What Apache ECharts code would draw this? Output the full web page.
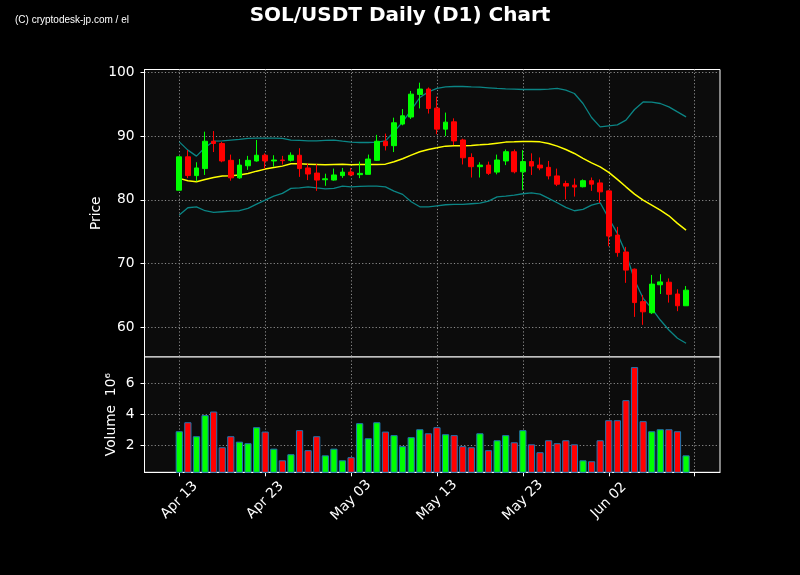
<!DOCTYPE html>
<html><head><meta charset="utf-8">
<script src="https://cdn.jsdelivr.net/npm/echarts@6/dist/echarts.min.js"></script>
<style>html,body{margin:0;padding:0;background:#000}#c{width:800px;height:575px}</style>
</head><body><div id="c"></div>
<script>
// ---- data ----
const openP = [81.5,86.75,83.8,84.9,89.2,88.85,86.2,83.45,85.35,86.1,
  87.0,86.1,86.25,86.2,87.0,85.0,84.2,83.15,83.1,83.8,
  84.35,83.95,84.0,86.2,89.2,88.5,91.9,93.0,96.55,97.4,
  94.4,91.1,92.25,89.4,86.65,85.2,85.45,84.35,86.1,87.55,
  84.4,86.0,85.45,85.1,83.75,82.55,82.3,82.05,83.0,82.65,
  81.4,74.45,71.8,69.1,64.0,62.25,66.65,67.05,65.2,63.35];
const closeP = [86.75,83.8,85.0,89.2,88.85,86.1,83.45,85.45,86.2,87.0,
  86.1,86.25,86.15,87.0,84.9,84.05,83.1,83.3,83.9,84.35,
  83.9,84.15,86.4,89.2,88.5,92.1,93.2,96.6,97.4,94.35,
  91.1,92.2,89.25,86.6,85.2,85.45,84.15,86.25,87.55,84.4,
  86.0,85.3,85.0,83.75,82.45,82.15,82.0,83.0,82.45,81.25,
  74.3,71.7,68.95,63.85,62.4,66.75,67.1,65.15,63.35,65.8];
const lowP = [81.5,83.4,82.9,83.9,87.5,85.9,83.0,83.3,84.7,86.0,
  84.9,85.2,85.55,86.0,83.6,83.1,81.4,82.2,83.0,83.45,
  83.7,83.4,84.0,86.1,87.75,87.5,91.7,92.7,94.35,93.55,
  90.3,90.0,88.6,85.55,83.5,83.5,83.9,84.0,85.45,84.15,
  81.5,83.9,84.65,83.2,82.15,80.05,80.5,81.95,81.4,79.5,
  72.7,71.05,66.95,61.6,60.35,62.05,65.2,63.85,62.5,63.35];
const highP = [86.8,87.8,85.9,90.7,90.8,89.1,87.1,86.4,86.9,89.4,
  87.3,87.0,86.9,87.45,88.1,85.7,85.6,84.1,84.9,85.0,
  85.0,86.0,87.1,90.2,90.4,92.9,94.25,97.1,98.4,97.65,
  96.2,93.7,92.8,89.6,87.3,85.9,86.0,87.1,87.9,87.9,
  87.8,87.3,86.65,86.1,84.9,83.0,83.35,83.2,83.5,83.2,
  81.5,75.75,72.6,69.2,65.05,68.2,68.3,67.65,65.95,66.45];
const maLine = [83.36,82.98,82.83,83.2,83.5,83.72,83.77,83.88,84.14,84.5,
  84.82,85.08,85.29,85.65,85.65,85.6,85.55,85.5,85.55,85.6,
  85.5,85.55,85.55,85.55,85.6,85.97,86.44,87.02,87.54,87.9,
  88.16,88.43,88.48,88.48,88.53,88.63,88.74,88.9,89.06,89.1,
  89.17,89.17,89.1,88.85,88.43,87.9,87.28,86.5,85.81,85.18,
  84.3,83.2,82.04,80.9,79.95,79.17,78.38,77.49,76.3,75.24];
const bbUpper = [89.1,87.8,86.86,88.22,89.21,89.26,89.37,89.48,89.64,89.68,
  89.68,89.68,89.64,89.37,89.32,89.26,89.26,89.32,89.37,89.21,
  89.06,89.0,89.0,89.06,89.26,90.68,92.25,94.08,96.07,96.96,
  97.49,97.74,97.8,97.8,97.74,97.69,97.59,97.49,97.43,97.38,
  97.33,97.33,97.33,97.38,97.49,97.22,96.7,95.13,92.93,91.46,
  91.62,91.78,92.51,94.19,95.38,95.34,95.13,94.6,93.81,93.03];
const bbLower = [77.6,78.75,78.9,78.28,78.02,78.12,78.22,78.28,78.65,79.33,
  79.95,80.58,81.0,81.79,81.88,82.04,81.88,81.73,81.79,82.15,
  82.04,82.1,82.15,82.15,82.04,81.36,80.85,79.69,78.9,78.9,
  79.06,79.22,79.27,79.27,79.38,79.48,79.8,80.47,80.58,80.74,
  80.95,81.1,80.9,80.22,79.53,78.8,78.28,78.49,79.17,79.53,
  77.08,74.72,71.58,67.39,64.52,62.95,61.11,59.54,58.24,57.46];
const volumeM = [2.90,3.48,2.58,3.94,4.17,1.87,2.58,2.23,2.13,3.16,
  2.88,1.78,1.03,1.42,2.97,1.68,2.58,1.35,1.78,1.03,
  1.23,3.42,2.45,3.48,2.88,2.65,1.94,2.52,3.03,2.77,
  3.16,2.71,2.65,1.94,1.87,2.77,1.68,2.32,2.65,2.19,
  2.97,2.06,1.55,2.32,2.13,2.32,2.06,1.03,0.97,2.32,
  3.61,3.61,4.90,7.03,3.55,2.90,3.03,3.03,2.90,1.35];
const tickDays = [0,10,20,30,40,50,60];
const tickLabels = ['Apr 13','Apr 23','May 03','May 13','May 23','Jun 02',''];
const priceTicks = [60,70,80,90,100];
const volumeTicks = [2,4,6];

// ---- build ----
const UP = '#00ff00', DOWN = '#ff0000';
const days = openP.map((_, i) => i);
const candleData = days.map(i => [i, openP[i], closeP[i], lowP[i], highP[i]]);
const lineData = arr => days.map(i => [i, arr[i]]);
const volData = days.map(i => ({
  value: [i, volumeM[i]],
  itemStyle: { color: closeP[i] >= openP[i] ? UP : DOWN }
}));
const FONT = 'DejaVu Sans';
const gridLine = { show: true, lineStyle: { color: '#8c8c8c', type: [1.2, 2.2], width: 1 } };
const X_MIN = -4.05, X_MAX = 62.95;
const labelFor = v => { const k = tickDays.indexOf(Math.round(v)); return k >= 0 ? tickLabels[k] : ''; };

const chart = echarts.init(document.getElementById('c'), null, { renderer: 'canvas' });
chart.setOption({
  backgroundColor: '#000000',
  animation: false,
  title: {
    text: 'SOL/USDT Daily (D1) Chart', left: 'center', top: 0.5,
    textStyle: { color: '#ffffff', fontFamily: FONT, fontWeight: 'bold', fontSize: 20 }
  },
  graphic: [{
    type: 'text', left: 15, top: 15,
    style: { text: '(C) cryptodesk-jp.com / el', fill: '#ffffff', font: '10px "Liberation Sans"' }
  }],
  grid: [
    { left: 144.5, width: 575.5, top: 69.5, height: 287.5, show: true,
      backgroundColor: '#0c0c0c', borderColor: '#ffffff', borderWidth: 1, containLabel: false },
    { left: 144.5, width: 575.5, top: 357, height: 115.3, show: true,
      backgroundColor: '#0c0c0c', borderColor: '#ffffff', borderWidth: 1, containLabel: false }
  ],
  xAxis: [
    { type: 'value', gridIndex: 0, min: X_MIN, max: X_MAX,
      axisLine: { show: false, onZero: false }, axisLabel: { show: false, customValues: tickDays },
      axisTick: { show: false, customValues: tickDays }, splitLine: gridLine },
    { type: 'value', gridIndex: 1, min: X_MIN, max: X_MAX,
      axisLine: { show: true, onZero: false, lineStyle: { color: '#ffffff', width: 1 } },
      axisTick: { show: true, length: 4, customValues: tickDays, lineStyle: { color: '#ffffff' } },
      axisLabel: { show: true, customValues: tickDays.slice(0, 6), rotate: 45, align: 'center',
        verticalAlign: 'middle', margin: 28, color: '#ffffff', fontFamily: FONT, fontSize: 13.8,
        formatter: labelFor },
      splitLine: gridLine }
  ],
  yAxis: [
    { type: 'value', gridIndex: 0, min: 55.3, max: 100.47, name: 'Price',
      nameLocation: 'middle', nameGap: 41, nameRotate: 90, nameMoveOverlap: false,
      nameTextStyle: { color: '#ffffff', fontFamily: FONT, fontSize: 13.8 },
      axisLine: { show: true, onZero: false, lineStyle: { color: '#ffffff' } },
      axisTick: { show: true, length: 4, customValues: priceTicks, lineStyle: { color: '#ffffff' } },
      axisLabel: { customValues: priceTicks, margin: 10, color: '#ffffff', fontFamily: FONT, fontSize: 13.8 },
      splitLine: gridLine },
    { type: 'value', gridIndex: 1, min: 0.258, max: 7.68, name: 'Volume  10\u2076',
      nameLocation: 'middle', nameGap: 26.5, nameRotate: 90, nameMoveOverlap: false,
      nameTextStyle: { color: '#ffffff', fontFamily: FONT, fontSize: 13.8 },
      axisLine: { show: true, onZero: false, lineStyle: { color: '#ffffff' } },
      axisTick: { show: true, length: 4, customValues: volumeTicks, lineStyle: { color: '#ffffff' } },
      axisLabel: { customValues: volumeTicks, margin: 10, color: '#ffffff', fontFamily: FONT, fontSize: 13.8 },
      splitLine: gridLine }
  ],
  series: [
    { type: 'line', xAxisIndex: 0, yAxisIndex: 0, data: lineData(bbUpper), symbol: 'none',
      lineStyle: { color: '#0b8585', width: 1.3 }, z: 3 },
    { type: 'line', xAxisIndex: 0, yAxisIndex: 0, data: lineData(bbLower), symbol: 'none',
      lineStyle: { color: '#0b8585', width: 1.3 }, z: 3 },
    { type: 'line', xAxisIndex: 0, yAxisIndex: 0, data: lineData(maLine), symbol: 'none',
      lineStyle: { color: '#ffff00', width: 1.5 }, z: 3 },
    { type: 'candlestick', xAxisIndex: 0, yAxisIndex: 0,
      dimensions: ['day', 'open', 'close', 'lowest', 'highest'],
      encode: { x: 'day', y: ['open', 'close', 'lowest', 'highest'] },
      data: candleData, barWidth: 5.2, z: 4,
      itemStyle: { color: UP, color0: DOWN, borderColor: UP, borderColor0: DOWN, borderWidth: 1 } },
    { type: 'bar', xAxisIndex: 1, yAxisIndex: 1, data: volData, barWidth: 7.2,
      itemStyle: { borderColor: '#1f77b4', borderWidth: 1 } }
  ]
});
</script></body></html>
